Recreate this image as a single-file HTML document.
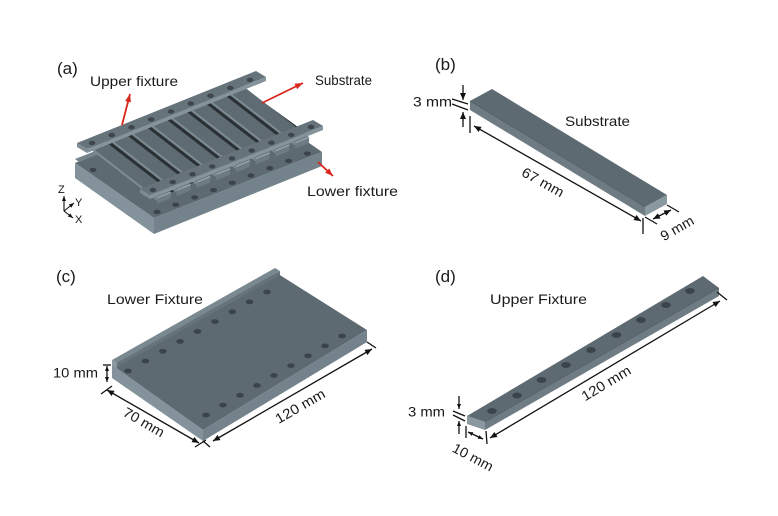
<!DOCTYPE html>
<html><head><meta charset="utf-8"><style>
html,body{margin:0;padding:0;background:#fff;}
svg{display:block;font-family:"Liberation Sans",Arial,sans-serif;}
</style></head><body>
<svg width="778" height="516" viewBox="0 0 778 516" xmlns="http://www.w3.org/2000/svg">
<defs>
<marker id="k" markerUnits="userSpaceOnUse" markerWidth="7" markerHeight="6" refX="7" refY="3" orient="auto-start-reverse" viewBox="0 0 7 6"><path d="M0,0 L7,3 L0,6 z" fill="#111"/></marker>
<marker id="ks" markerUnits="userSpaceOnUse" markerWidth="5" markerHeight="4" refX="5" refY="2" orient="auto-start-reverse" viewBox="0 0 5 4"><path d="M0,0 L5,2 L0,4 z" fill="#111"/></marker>
<marker id="r" markerUnits="userSpaceOnUse" markerWidth="8" markerHeight="6" refX="8" refY="3" orient="auto" viewBox="0 0 8 6"><path d="M0,0 L8,3 L0,6 z" fill="#d9261c"/></marker>
</defs>
<rect width="778" height="516" fill="#fff"/>

<!-- ========== Panel (a) ========== -->
<polygon points="75,163 154,218 322,152 243,97" fill="#5e6a72"/>
<polygon points="75,163 154,218 154,234 75,178" fill="#84939b"/>
<polygon points="154,218 322,152 322,166 154,234" fill="#74838b"/>
<polygon points="75,159 243,93 247,96 79,162" fill="#75838b"/>
<g fill="#3b444a">
<ellipse cx="93" cy="170" rx="3.5" ry="2.2"/>
<ellipse cx="157" cy="212" rx="3.5" ry="2.2"/>
<ellipse cx="175.8" cy="204.7" rx="3.5" ry="2.2"/>
<ellipse cx="194.6" cy="197.4" rx="3.5" ry="2.2"/>
<ellipse cx="213.4" cy="190.1" rx="3.5" ry="2.2"/>
<ellipse cx="232.2" cy="182.8" rx="3.5" ry="2.2"/>
<ellipse cx="251" cy="175.5" rx="3.5" ry="2.2"/>
<ellipse cx="269.8" cy="168.2" rx="3.5" ry="2.2"/>
<ellipse cx="288.6" cy="160.9" rx="3.5" ry="2.2"/>
<ellipse cx="307.4" cy="153.6" rx="3.5" ry="2.2"/>
</g>
<polygon points="88,147 241,86 305,132 157,199" fill="#2a3034"/>
<g>
<polygon points="225.9,89.06 239.72,83.54 309.04,137.18 295.22,142.7" fill="#5f6b73"/>
<polygon points="225.9,89.06 295.22,142.7 295.22,145.7 225.9,92.06" fill="#7b8991"/>
<polygon points="295.22,142.7 309.04,137.18 309.04,143.18 295.22,148.7" fill="#6e7b83"/>
<line x1="295.22" y1="142.7" x2="309.04" y2="137.18" stroke="#97a4ab" stroke-width="1.5"/>

<polygon points="206.15,96.93 219.97,91.41 289.29,145.05 275.47,150.57" fill="#5f6b73"/>
<polygon points="206.15,96.93 275.47,150.57 275.47,153.57 206.15,99.93" fill="#7b8991"/>
<polygon points="275.47,150.57 289.29,145.05 289.29,151.05 275.47,156.57" fill="#6e7b83"/>
<line x1="275.47" y1="150.57" x2="289.29" y2="145.05" stroke="#97a4ab" stroke-width="1.5"/>

<polygon points="186.4,104.81 200.22,99.29 269.54,152.93 255.72,158.45" fill="#5f6b73"/>
<polygon points="186.4,104.81 255.72,158.45 255.72,161.45 186.4,107.81" fill="#7b8991"/>
<polygon points="255.72,158.45 269.54,152.93 269.54,158.93 255.72,164.45" fill="#6e7b83"/>
<line x1="255.72" y1="158.45" x2="269.54" y2="152.93" stroke="#97a4ab" stroke-width="1.5"/>

<polygon points="166.65,112.68 180.47,107.16 249.79,160.8 235.97,166.32" fill="#5f6b73"/>
<polygon points="166.65,112.68 235.97,166.32 235.97,169.32 166.65,115.68" fill="#7b8991"/>
<polygon points="235.97,166.32 249.79,160.8 249.79,166.8 235.97,172.32" fill="#6e7b83"/>
<line x1="235.97" y1="166.32" x2="249.79" y2="160.8" stroke="#97a4ab" stroke-width="1.5"/>

<polygon points="146.9,120.56 160.72,115.04 230.04,168.68 216.22,174.2" fill="#5f6b73"/>
<polygon points="146.9,120.56 216.22,174.2 216.22,177.2 146.9,123.56" fill="#7b8991"/>
<polygon points="216.22,174.2 230.04,168.68 230.04,174.68 216.22,180.2" fill="#6e7b83"/>
<line x1="216.22" y1="174.2" x2="230.04" y2="168.68" stroke="#97a4ab" stroke-width="1.5"/>

<polygon points="127.15,128.43 140.97,122.91 210.29,176.55 196.47,182.07" fill="#5f6b73"/>
<polygon points="127.15,128.43 196.47,182.07 196.47,185.07 127.15,131.43" fill="#7b8991"/>
<polygon points="196.47,182.07 210.29,176.55 210.29,182.55 196.47,188.07" fill="#6e7b83"/>
<line x1="196.47" y1="182.07" x2="210.29" y2="176.55" stroke="#97a4ab" stroke-width="1.5"/>

<polygon points="107.4,136.31 121.22,130.79 190.54,184.43 176.72,189.95" fill="#5f6b73"/>
<polygon points="107.4,136.31 176.72,189.95 176.72,192.95 107.4,139.31" fill="#7b8991"/>
<polygon points="176.72,189.95 190.54,184.43 190.54,190.43 176.72,195.95" fill="#6e7b83"/>
<line x1="176.72" y1="189.95" x2="190.54" y2="184.43" stroke="#97a4ab" stroke-width="1.5"/>

<polygon points="87.65,144.18 101.47,138.66 170.79,192.3 156.97,197.82" fill="#5f6b73"/>
<polygon points="87.65,144.18 156.97,197.82 156.97,200.82 87.65,147.18" fill="#7b8991"/>
<polygon points="156.97,197.82 170.79,192.3 170.79,198.3 156.97,203.82" fill="#6e7b83"/>
<line x1="156.97" y1="197.82" x2="170.79" y2="192.3" stroke="#97a4ab" stroke-width="1.5"/>
</g>
<polygon points="77,143 256,71 266,77 87,149" fill="#66737b"/>
<polygon points="87,149 266,77 266,81 87,153" fill="#85939b"/>
<polygon points="77,143 87,149 87,153 77,147" fill="#7d8b93"/>
<g fill="#3d464c">
<ellipse cx="92" cy="143" rx="3.3" ry="2.2"/>
<ellipse cx="111.75" cy="135.1" rx="3.3" ry="2.2"/>
<ellipse cx="131.5" cy="127.25" rx="3.3" ry="2.2"/>
<ellipse cx="151.25" cy="119.4" rx="3.3" ry="2.2"/>
<ellipse cx="171" cy="111.5" rx="3.3" ry="2.2"/>
<ellipse cx="190.75" cy="103.6" rx="3.3" ry="2.2"/>
<ellipse cx="210.5" cy="95.75" rx="3.3" ry="2.2"/>
<ellipse cx="230.25" cy="87.9" rx="3.3" ry="2.2"/>
<ellipse cx="250" cy="80" rx="3.3" ry="2.2"/>
</g>
<polygon points="140,189 313,120 323,126 150,195" fill="#66737b"/>
<polygon points="150,195 323,126 323,130 150,199" fill="#85939b"/>
<polygon points="140,189 150,195 150,199 140,193" fill="#7d8b93"/>
<g fill="#3d464c">
<ellipse cx="153" cy="190" rx="3.3" ry="2.2"/>
<ellipse cx="172.75" cy="182.1" rx="3.3" ry="2.2"/>
<ellipse cx="192.5" cy="174.25" rx="3.3" ry="2.2"/>
<ellipse cx="212.25" cy="166.4" rx="3.3" ry="2.2"/>
<ellipse cx="232" cy="158.5" rx="3.3" ry="2.2"/>
<ellipse cx="251.75" cy="150.6" rx="3.3" ry="2.2"/>
<ellipse cx="271.5" cy="142.75" rx="3.3" ry="2.2"/>
<ellipse cx="291.25" cy="134.9" rx="3.3" ry="2.2"/>
<ellipse cx="311" cy="127" rx="3.3" ry="2.2"/>
</g>
<g stroke="#d9261c" stroke-width="1.8" fill="none">
<line x1="122" y1="125" x2="130" y2="94" marker-end="url(#r)"/>
<line x1="262" y1="103" x2="303" y2="83" marker-end="url(#r)"/>
<line x1="318" y1="162" x2="333" y2="176" marker-end="url(#r)"/>
</g>
<g stroke="#111" stroke-width="1.1">
<line x1="64" y1="211" x2="64" y2="196" marker-end="url(#ks)"/>
<line x1="64" y1="211" x2="74" y2="203" marker-end="url(#ks)"/>
<line x1="64" y1="211" x2="73" y2="218" marker-end="url(#ks)"/>
</g>
<g fill="#1a1a1a" font-size="11">
<text x="58" y="193">Z</text>
<text x="75" y="206">Y</text>
<text x="75" y="223">X</text>
</g>
<g fill="#1a1a1a" font-size="14">
<text x="57" y="74" font-size="17">(a)</text>
<text x="90" y="86" textLength="88" lengthAdjust="spacingAndGlyphs">Upper fixture</text>
<text x="315" y="85" textLength="57" lengthAdjust="spacingAndGlyphs">Substrate</text>
<text x="307" y="196" textLength="91" lengthAdjust="spacingAndGlyphs">Lower fixture</text>
</g>

<!-- ========== Panel (b) ========== -->
<polygon points="470,101 492,89 667,195 645,207" fill="#5e6a72"/>
<polygon points="470,101 645,207 645,216 470,110" fill="#6e7b83"/>
<line x1="470" y1="101" x2="645" y2="207" stroke="#4f5a61" stroke-width="0.6"/>
<polygon points="645,207 667,195 667,204 645,216" fill="#8a989f"/>
<g stroke="#111" stroke-width="1.3" fill="none">
<line x1="474" y1="126" x2="641" y2="221" marker-start="url(#k)" marker-end="url(#k)"/>
<line x1="470" y1="116" x2="470" y2="133"/>
<line x1="643" y1="218" x2="643" y2="234"/>
<line x1="645" y1="217" x2="657" y2="224"/>
<line x1="667" y1="205" x2="679" y2="212"/>
<line x1="653" y1="219" x2="671" y2="210" marker-start="url(#k)" marker-end="url(#k)"/>
<line x1="463" y1="85" x2="463" y2="100" marker-end="url(#k)"/>
<line x1="463" y1="127" x2="463" y2="112" marker-end="url(#k)"/>
<line x1="452" y1="99" x2="468" y2="104"/>
<line x1="452" y1="104" x2="468" y2="110"/>
</g>
<g fill="#1a1a1a" font-size="14">
<text x="435" y="70" font-size="17">(b)</text>
<text x="413" y="106.5" textLength="39" lengthAdjust="spacingAndGlyphs">3 mm</text>
<text x="565" y="126" textLength="65" lengthAdjust="spacingAndGlyphs">Substrate</text>
<text x="543" y="187" text-anchor="middle" textLength="46" lengthAdjust="spacingAndGlyphs" transform="rotate(29 543 182)">67 mm</text>
<text x="677" y="233" text-anchor="middle" textLength="36" lengthAdjust="spacingAndGlyphs" transform="rotate(-30 677 228)">9 mm</text>
</g>

<!-- ========== Panel (c) ========== -->
<polygon points="112,365 203,430 367,330 275,272" fill="#5e6a72"/>
<polygon points="112,365 203,430 203,441 112,378" fill="#84939b"/>
<polygon points="203,430 367,330 367,342 203,441" fill="#74838b"/>
<polygon points="112,360 275,268 280,271 117,363" fill="#7a8890"/>
<polygon points="117,363 280,271 280,275 117,367" fill="#66737b"/>
<polygon points="112,360 117,363 117,368 112,365" fill="#8a98a0"/>
<g fill="#3b444a">
<ellipse cx="128" cy="371" rx="3.8" ry="2.4"/>
<ellipse cx="145.4" cy="361.1" rx="3.8" ry="2.4"/>
<ellipse cx="162.8" cy="351.3" rx="3.8" ry="2.4"/>
<ellipse cx="180.1" cy="341.4" rx="3.8" ry="2.4"/>
<ellipse cx="197.5" cy="331.5" rx="3.8" ry="2.4"/>
<ellipse cx="214.9" cy="321.6" rx="3.8" ry="2.4"/>
<ellipse cx="232.3" cy="311.8" rx="3.8" ry="2.4"/>
<ellipse cx="249.6" cy="301.9" rx="3.8" ry="2.4"/>
<ellipse cx="267" cy="292" rx="3.8" ry="2.4"/>
<ellipse cx="206" cy="415" rx="3.8" ry="2.4"/>
<ellipse cx="223" cy="405.1" rx="3.8" ry="2.4"/>
<ellipse cx="240" cy="395.3" rx="3.8" ry="2.4"/>
<ellipse cx="257" cy="385.4" rx="3.8" ry="2.4"/>
<ellipse cx="274" cy="375.5" rx="3.8" ry="2.4"/>
<ellipse cx="291" cy="365.6" rx="3.8" ry="2.4"/>
<ellipse cx="308" cy="355.8" rx="3.8" ry="2.4"/>
<ellipse cx="325" cy="345.9" rx="3.8" ry="2.4"/>
<ellipse cx="342" cy="336" rx="3.8" ry="2.4"/>
</g>
<g stroke="#111" stroke-width="1.3" fill="none">
<line x1="107" y1="366" x2="107" y2="382" marker-start="url(#ks)" marker-end="url(#ks)"/>
<line x1="103" y1="365" x2="111" y2="365"/>
<line x1="107" y1="390" x2="199" y2="443" marker-start="url(#k)" marker-end="url(#k)"/>
<line x1="101" y1="394" x2="112" y2="386"/>
<line x1="195" y1="447" x2="206" y2="440"/>
<line x1="213" y1="441" x2="372" y2="349" marker-start="url(#k)" marker-end="url(#k)"/>
<line x1="203" y1="441" x2="210" y2="447"/>
<line x1="367" y1="342" x2="376" y2="348"/>
</g>
<g fill="#1a1a1a" font-size="14">
<text x="56" y="282" font-size="17">(c)</text>
<text x="107" y="304" textLength="96" lengthAdjust="spacingAndGlyphs">Lower Fixture</text>
<text x="53" y="377.5" textLength="45" lengthAdjust="spacingAndGlyphs">10 mm</text>
<text x="144" y="427" text-anchor="middle" textLength="45" lengthAdjust="spacingAndGlyphs" transform="rotate(30 144 422)">70 mm</text>
<text x="300" y="411" text-anchor="middle" textLength="55" lengthAdjust="spacingAndGlyphs" transform="rotate(-30 300 406)">120 mm</text>
</g>

<!-- ========== Panel (d) ========== -->
<polygon points="467,416 485,422 719,288 703,276" fill="#5e6a72"/>
<polygon points="485,422 719,288 719,296 485,430" fill="#6f7c84"/>
<line x1="485" y1="422" x2="719" y2="288" stroke="#4f5a61" stroke-width="0.6"/>
<polygon points="467,416 485,422 485,430 467,424" fill="#8a989f"/>
<g fill="#3b444a">
<ellipse cx="492" cy="411" rx="4.8" ry="3"/>
<ellipse cx="517" cy="395.5" rx="4.8" ry="3"/>
<ellipse cx="541.5" cy="380" rx="4.8" ry="3"/>
<ellipse cx="566" cy="365" rx="4.8" ry="3"/>
<ellipse cx="591" cy="350" rx="4.8" ry="3"/>
<ellipse cx="616.5" cy="335" rx="4.8" ry="3"/>
<ellipse cx="641" cy="320" rx="4.8" ry="3"/>
<ellipse cx="666" cy="305" rx="4.8" ry="3"/>
<ellipse cx="690" cy="291" rx="4.8" ry="3"/>
</g>
<g stroke="#111" stroke-width="1.3" fill="none">
<line x1="490" y1="438" x2="720" y2="301" marker-start="url(#k)" marker-end="url(#k)"/>
<line x1="486" y1="431" x2="487" y2="444"/>
<line x1="717" y1="292" x2="727" y2="300"/>
<line x1="468" y1="432" x2="483" y2="439" marker-start="url(#ks)" marker-end="url(#ks)"/>
<line x1="466" y1="426" x2="466" y2="438"/>
<line x1="459" y1="396" x2="459" y2="409" marker-end="url(#ks)"/>
<line x1="459" y1="434" x2="459" y2="421" marker-end="url(#ks)"/>
<line x1="453" y1="411" x2="465" y2="416"/>
<line x1="453" y1="415" x2="465" y2="421"/>
</g>
<g fill="#1a1a1a" font-size="14">
<text x="435" y="282" font-size="17">(d)</text>
<text x="490" y="304" textLength="97" lengthAdjust="spacingAndGlyphs">Upper Fixture</text>
<text x="408" y="416.5" textLength="37" lengthAdjust="spacingAndGlyphs">3 mm</text>
<text x="606" y="388" text-anchor="middle" textLength="55" lengthAdjust="spacingAndGlyphs" transform="rotate(-31 606 383)">120 mm</text>
<text x="473" y="462" text-anchor="middle" textLength="44" lengthAdjust="spacingAndGlyphs" transform="rotate(28 473 457)">10 mm</text>
</g>
</svg>
</body></html>
